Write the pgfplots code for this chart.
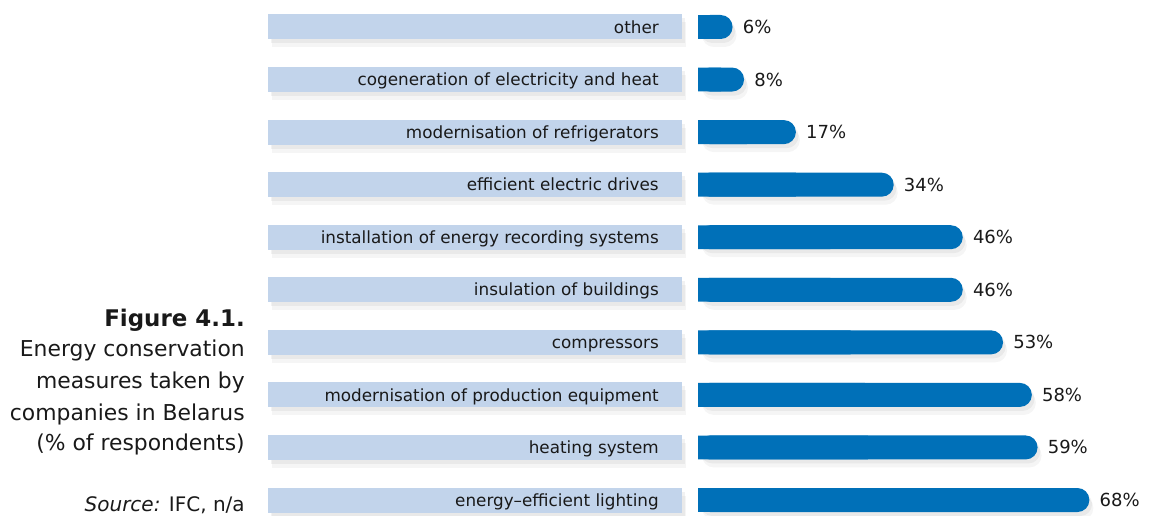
\documentclass[border=0pt]{standalone}
\usepackage{pgfplots}
\pgfplotsset{compat=1.18}
\usepackage{pgfplotstable}
\usepackage{fontspec}
\setmainfont{DejaVu Sans}
\definecolor{darkbar}{RGB}{0,112,184}
\definecolor{lightbar}{RGB}{194,212,235}
\definecolor{txt}{RGB}{25,25,25}

\pgfplotstableread{
y v
0 68
1 59
2 58
3 53
4 46
5 46
6 34
7 17
8 8
9 6
}\datatable

\begin{document}
\begin{tikzpicture}
\useasboundingbox (0,0) rectangle (862.5pt,387pt);
\begin{axis}[
  at={(201pt,0pt)}, anchor=south west,
  scale only axis, width=661.5pt, height=387pt,
  xmin=-74.72, xmax=78.54, ymin=-0.304, ymax=9.514,
  axis line style={draw=none}, tick style={draw=none},
  axis on top,
  xtick=\empty, ytick={0,...,9},
  yticklabels={energy--efficient lighting, heating system, modernisation of production equipment, compressors, insulation of buildings, installation of energy recording systems, efficient electric drives, modernisation of refrigerators, cogeneration of electricity and heat, other},
  yticklabel style={anchor=base east, inner sep=0pt, xshift=293.25pt, yshift=-4.6pt, font=\fontsize{12.6}{14}\selectfont, text=txt},
  /pgf/number format/assume math mode=true,
  clip=false,
]
% label bars with soft shadow
\pgfplotsinvokeforeach{0,...,9}{
  \addplot[black, opacity=0.05, line width=18.75pt, forget plot, xshift=2pt, yshift=-3pt] coordinates {(-74.72,#1) (-2.78,#1)};
  \addplot[black, opacity=0.04, line width=18.75pt, forget plot, xshift=3pt, yshift=-6pt] coordinates {(-74.72,#1) (-2.78,#1)};
  \addplot[lightbar, line width=18.75pt, forget plot] coordinates {(-74.72,#1) (-2.78,#1)};
}
% shadows for value bars
\addplot[xbar, bar width=18pt, fill=black, fill opacity=0.05, draw=none, rounded corners=8.9pt, xshift=2pt, yshift=-3pt, forget plot] table[x=v,y=y]{\datatable};
\addplot[xbar, bar width=18pt, fill=black, fill opacity=0.04, draw=none, rounded corners=8.9pt, xshift=3pt, yshift=-6pt, forget plot] table[x=v,y=y]{\datatable};
% value bars: square left half underneath, rounded full bar on top
\addplot[xbar, bar width=17.9pt, fill=darkbar, draw=none, forget plot] table[x expr=\thisrow{v}/2, y=y]{\datatable};
\addplot[xbar, bar width=18pt, fill=darkbar, draw=none, rounded corners=8.9pt,
  nodes near coords={\pgfmathprintnumber{\pgfplotspointmeta}\%},
  every node near coord/.append style={anchor=base west, inner sep=0pt, xshift=7.5pt, yshift=-4.9pt, font=\fontsize{13.5}{15}\selectfont, text=txt}]
  table[x=v,y=y]{\datatable};
\end{axis}
\begin{scope}[every node/.style={inner sep=0pt, text=txt, font=\fontsize{16.4}{19}\selectfont}]
\node[anchor=base east, font=\fontsize{17.2}{20}\selectfont\bfseries] at (183.75pt,141.75pt) {Figure 4.1.};
\node[anchor=base east] at (183.75pt,119.25pt) {Energy conservation};
\node[anchor=base east] at (183.75pt,95.25pt) {measures taken by};
\node[anchor=base east] at (183.75pt,71.25pt) {companies in Belarus};
\node[anchor=base east] at (183.75pt,48.75pt) {(\% of respondents)};
\node[anchor=base east, font=\fontsize{15}{18}\selectfont] at (183.75pt,3pt) {\textit{Source:} IFC, n/a};
\end{scope}
\end{tikzpicture}
\end{document}
